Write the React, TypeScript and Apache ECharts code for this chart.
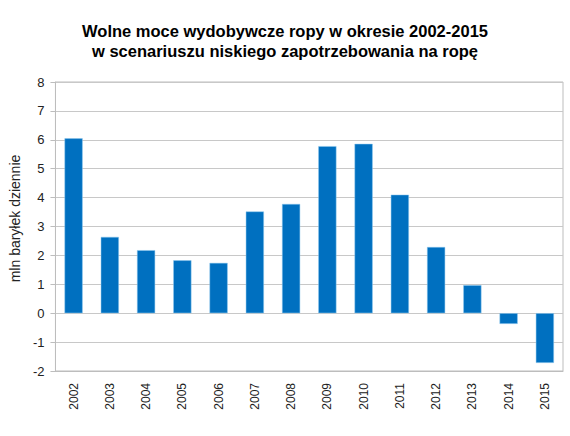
import React, { useEffect, useRef } from "react";
import * as echarts from "echarts";
import type { EChartsOption } from "echarts";

const years = ["2002", "2003", "2004", "2005", "2006", "2007", "2008", "2009", "2010", "2011", "2012", "2013", "2014", "2015"];
// wolne moce wydobywcze, mln baryłek dziennie
const spareCapacity = [6.05, 2.64, 2.18, 1.83, 1.74, 3.52, 3.78, 5.78, 5.86, 4.1, 2.29, 0.97, -0.37, -1.72];

const titleLines = [
  "Wolne moce wydobywcze ropy w okresie 2002-2015",
  "w scenariuszu niskiego zapotrzebowania na ropę",
];

const FONT = "Liberation Sans, Arial, sans-serif";

const App: React.FC = () => {
  const chartRef = useRef<HTMLDivElement | null>(null);

  useEffect(() => {
    if (!chartRef.current) return;
    const myChart = echarts.init(chartRef.current, undefined, { renderer: "svg" });

    const option: EChartsOption = {
      animation: false,
      backgroundColor: "#ffffff",
      title: {
        text: titleLines.join("\n"),
        left: "center",
        top: 16,
        padding: [5, 0, 5, 8],
        textStyle: {
          fontFamily: FONT,
          fontSize: 16.5,
          fontWeight: "bold",
          color: "#000",
          lineHeight: 20,
        },
      },
      grid: {
        left: 53,
        right: 7,
        top: 82,
        bottom: 65,
        show: true,
        borderColor: "#bdbdbd",
        borderWidth: 1,
      },
      xAxis: {
        type: "category",
        data: years,
        axisLine: { onZero: false, lineStyle: { color: "#bdbdbd" } },
        axisTick: { show: false },
        axisLabel: {
          rotate: 90,
          margin: 12,
          fontFamily: FONT,
          fontSize: 12,
          color: "#222",
        },
      },
      yAxis: {
        type: "value",
        min: -2,
        max: 8,
        interval: 1,
        name: "mln baryłek dziennie",
        nameLocation: "middle",
        nameGap: 30,
        nameTextStyle: { fontFamily: FONT, fontSize: 14, color: "#222", padding: [0, 0, 0, 16] },
        axisLine: { show: true, lineStyle: { color: "#bdbdbd" } },
        axisTick: { show: true, length: 5, lineStyle: { color: "#bdbdbd" } },
        splitLine: { lineStyle: { color: "#c8c8c8" } },
        axisLabel: { margin: 11, fontFamily: FONT, fontSize: 13, color: "#222" },
      },
      series: [
        {
          type: "bar",
          data: spareCapacity,
          barWidth: "50%",
          itemStyle: { color: "#0070c0", borderColor: "#8ec8ef", borderWidth: 0.5 },
        },
      ],
    };

    myChart.setOption(option);
    return () => {
      myChart.dispose();
    };
  }, []);

  return (
    <div
      ref={chartRef}
      style={{ position: "absolute", left: 0, top: 0, width: "570px", height: "436px" }}
    />
  );
};

export default App;
